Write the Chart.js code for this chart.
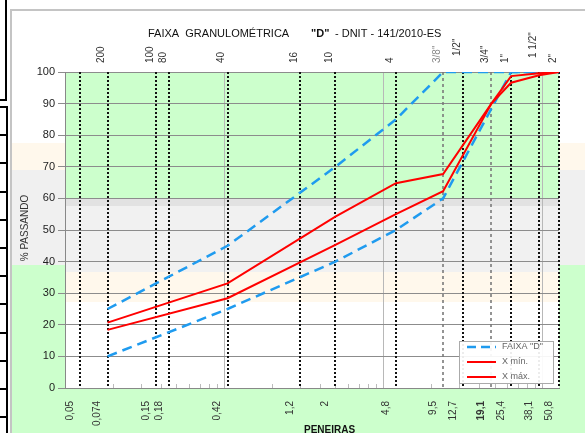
<!DOCTYPE html>
<html>
<head>
<meta charset="utf-8">
<script src="https://cdn.jsdelivr.net/npm/chart.js@4.4.0/dist/chart.umd.min.js"></script>
<style>
  html, body { margin: 0; padding: 0; background: #fff; overflow: hidden; }
  canvas { display: block; }
</style>
</head>
<body>
<canvas id="granChart" width="585" height="433"></canvas>
<script>
// sieve openings (mm) and their names
const sieveMm = [0.05, 0.074, 0.15, 0.18, 0.42, 1.2, 2.0, 4.8, 9.5, 12.7, 19.1, 25.4, 38.1, 50.8];
const sieveMmLabels = ['0,05', '0,074', '0,15', '0,18', '0,42', '1,2', '2', '4,8', '9,5', '12,7', '19,1', '25,4', '38,1', '50,8'];
const sieveNames = ['', '200', '100', '80', '40', '16', '10', '4', '3/8"', '1/2"', '3/4"', '1"', '1 1/2"', '2"'];

// faixa "D" limits
const faixaMm = [0.074, 0.42, 2.0, 4.8, 9.5, 25.4, 50.8];
const faixaMin = [10, 25, 40, 50, 60, 100, 100];
const faixaMax = [25, 45, 70, 85, 100, 100, 100];

// project curve limits
const projMm = [0.074, 0.42, 2.0, 4.8, 9.5, 19.1, 25.4, 38.1, 50.8];
const xMinValues = [18.4, 28.4, 45.3, 55, 62.3, 90, 96.6, 99, 100];
const xMaxValues = [20.7, 33.1, 54.2, 64.8, 67.7, 90, 98.7, 99.6, 100];

const yTicks = [0, 10, 20, 30, 40, 50, 60, 70, 80, 90, 100];

const FONT = 'Liberation Sans, Arial, sans-serif';
const BLUE = '#1f9bef';
const RED = '#ff0000';
Chart.defaults.font.family = FONT;

const pts = (xs, ys) => xs.map((x, i) => ({ x: x, y: ys[i] }));

// spreadsheet cells showing behind the chart
const sheetBackground = {
    id: 'sheetBackground',
    beforeDraw(chart) {
        const ctx = chart.ctx;
        const a = chart.chartArea;
        const W = chart.width, H = chart.height;
        ctx.save();
        ctx.fillStyle = '#fff';
        ctx.fillRect(0, 0, W, H);

        ctx.fillStyle = '#fff8ec'; ctx.fillRect(12, 143, W - 12, 27);
        ctx.fillStyle = '#f0f0f0'; ctx.fillRect(12, 170, W - 12, 95);
        ctx.fillStyle = '#ccffcc'; ctx.fillRect(12, 265, W - 12, H - 265);

        // plot area fill
        ctx.fillStyle = '#fff'; ctx.fillRect(a.left, a.top, a.width, a.height);
        ctx.fillStyle = '#ccffcc'; ctx.fillRect(a.left, a.top, a.width, 199 - a.top);
        ctx.fillStyle = '#e2e2e2'; ctx.fillRect(a.left, 199, a.width, 7);
        ctx.fillStyle = '#f1f1f1'; ctx.fillRect(a.left, 206, a.width, 66);
        ctx.fillStyle = '#fff8ec'; ctx.fillRect(a.left, 272, a.width, 30);

        // frame of the chart object
        ctx.fillStyle = '#c4c4c4';
        ctx.fillRect(11, 9, W - 11, 2);
        ctx.fillRect(10, 9, 2, H - 9);

        // sheet borders at the far left
        ctx.fillStyle = '#000';
        ctx.fillRect(5, 0, 2, 100);
        ctx.fillRect(0, 99, 7, 2);
        ctx.fillRect(6, 106, 2, H - 106);
        for (let yy = 106; yy < H; yy += 28.2) {
            ctx.fillRect(0, Math.round(yy), 7, 2);
        }
        ctx.restore();
    }
};

// dotted sieve lines with their labels
const sieveLines = {
    id: 'sieveLines',
    beforeDatasetsDraw(chart) {
        const ctx = chart.ctx;
        const a = chart.chartArea;
        const x = chart.scales.x;
        ctx.save();
        // minor ticks inside the axis
        ctx.strokeStyle = '#bbb';
        ctx.lineWidth = 1;
        [0.04, 0.4, 4].forEach(dec => {
            for (let k = 2; k <= 9; k++) {
                const v = dec * k;
                if (v > 50.8) continue;
                const px = Math.round(x.getPixelForValue(v)) + 0.5;
                ctx.beginPath();
                ctx.moveTo(px, a.bottom);
                ctx.lineTo(px, a.bottom - 4);
                ctx.stroke();
            }
        });
        sieveMm.forEach(mm => {
            const px = Math.round(x.getPixelForValue(mm));
            const light = (mm === 9.5 || mm === 19.1);
            ctx.strokeStyle = light ? '#7a7a7a' : '#111';
            ctx.lineWidth = light ? 1.6 : 2;
            ctx.setLineDash(light ? [3, 3] : [2, 2]);
            ctx.beginPath();
            ctx.moveTo(px, a.top);
            ctx.lineTo(px, a.bottom);
            ctx.stroke();
        });
        ctx.restore();
    },
    afterDraw(chart) {
        const ctx = chart.ctx;
        const a = chart.chartArea;
        const x = chart.scales.x;
        ctx.save();
        ctx.textBaseline = 'middle';
        sieveMm.forEach((mm, i) => {
            const px = x.getPixelForValue(mm);
            // mm label under the axis
            ctx.save();
            ctx.translate(px - 10, a.bottom + 13);
            ctx.rotate(-Math.PI / 2);
            ctx.textAlign = 'right';
            ctx.fillStyle = '#333';
            ctx.font = (sieveMmLabels[i] === '19,1' ? 'bold ' : '') + '10px ' + FONT;
            ctx.fillText(sieveMmLabels[i], 0, 0);
            ctx.restore();
            // sieve name above the plot
            const name = sieveNames[i];
            if (!name) return;
            const lift = (name === '1/2"') ? 7 : (name === '1 1/2"' ? 5 : 0);
            ctx.save();
            ctx.translate(px - 6, a.top - 9 - lift);
            ctx.rotate(-Math.PI / 2);
            ctx.textAlign = 'left';
            ctx.fillStyle = name === '3/8"' ? '#888' : '#333';
            ctx.font = '10px ' + FONT;
            ctx.fillText(name, 0, 0);
            ctx.restore();
        });
        ctx.restore();
    }
};

// title, axis titles and legend box
const chartTexts = {
    id: 'chartTexts',
    afterDraw(chart) {
        const ctx = chart.ctx;
        ctx.save();
        ctx.fillStyle = '#111';
        ctx.textBaseline = 'alphabetic';
        ctx.textAlign = 'left';
        ctx.font = '11px ' + FONT;
        ctx.fillText('FAIXA  GRANULOMÉTRICA', 148, 37);
        ctx.font = 'bold 11px ' + FONT;
        ctx.fillText('"D"', 311, 37);
        ctx.font = '11px ' + FONT;
        ctx.fillText('- DNIT - 141/2010-ES', 335, 37);

        // y axis title
        ctx.save();
        ctx.translate(25, 228);
        ctx.rotate(-Math.PI / 2);
        ctx.textAlign = 'center';
        ctx.textBaseline = 'middle';
        ctx.fillStyle = '#333';
        ctx.font = '10px ' + FONT;
        ctx.fillText('% PASSANDO', 0, 0);
        ctx.restore();

        // x axis title
        ctx.font = 'bold 10px ' + FONT;
        ctx.fillStyle = '#111';
        ctx.fillText('PENEIRAS', 304, 433);

        // legend
        const lx = 459, ly = 341, lw = 94, lh = 42;
        ctx.fillStyle = 'rgba(255,255,255,0.92)';
        ctx.fillRect(lx, ly, lw, lh);
        ctx.strokeStyle = '#aaa';
        ctx.lineWidth = 1;
        ctx.strokeRect(lx + 0.5, ly + 0.5, lw, lh);
        const items = [
            { text: 'FAIXA "D"', color: BLUE, dash: [9, 5], w: 2.5 },
            { text: 'X mín.', color: RED, dash: [], w: 2 },
            { text: 'X máx.', color: RED, dash: [], w: 2 }
        ];
        ctx.font = '9px ' + FONT;
        ctx.textBaseline = 'middle';
        items.forEach((it, i) => {
            const yy = ly + 6 + i * 15;
            ctx.strokeStyle = it.color;
            ctx.lineWidth = it.w;
            ctx.setLineDash(it.dash);
            ctx.beginPath();
            ctx.moveTo(lx + 8, yy);
            ctx.lineTo(lx + 37, yy);
            ctx.stroke();
            ctx.setLineDash([]);
            ctx.fillStyle = '#666';
            ctx.fillText(it.text, lx + 43, yy);
        });
        ctx.restore();
    }
};

new Chart(document.getElementById('granChart').getContext('2d'), {
    type: 'scatter',
    data: {
        datasets: [
            {
                label: 'X mín.',
                data: pts(projMm, xMinValues),
                showLine: true,
                borderColor: RED,
                borderWidth: 2,
                pointRadius: 0,
                order: 1
            },
            {
                label: 'X máx.',
                data: pts(projMm, xMaxValues),
                showLine: true,
                borderColor: RED,
                borderWidth: 2,
                pointRadius: 0,
                order: 1
            },
            {
                label: 'FAIXA "D"',
                data: pts(faixaMm, faixaMin),
                showLine: true,
                borderColor: BLUE,
                borderWidth: 2.5,
                borderDash: [10, 6],
                pointRadius: 0,
                order: 2
            },
            {
                label: 'FAIXA "D" máx',
                data: pts(faixaMm, faixaMax),
                showLine: true,
                borderColor: BLUE,
                borderWidth: 2.5,
                borderDash: [10, 6],
                pointRadius: 0,
                order: 2
            }
        ]
    },
    options: {
        responsive: false,
        animation: false,
        layout: { padding: { left: 12, right: 26, top: 72, bottom: 45 } },
        plugins: {
            legend: { display: false },
            title: { display: false },
            tooltip: { enabled: false }
        },
        scales: {
            x: {
                type: 'logarithmic',
                min: 0.04,
                max: 50.8,
                afterBuildTicks: scale => {
                    scale.ticks = [0.04, 0.4, 4, 40].map(v => ({ value: v }));
                },
                afterFit: scale => { scale.height = 0; },
                ticks: { display: false },
                grid: { color: '#b8b8b8', drawTicks: false, lineWidth: 1 },
                border: { display: true, color: '#888', width: 1 }
            },
            y: {
                min: 0,
                max: 100,
                afterBuildTicks: scale => {
                    const t = [];
                    for (let v = 0; v <= 100; v += 5) t.push({ value: v });
                    scale.ticks = t;
                },
                afterFit: scale => { scale.width = 53; },
                ticks: {
                    color: '#222',
                    font: { size: 11 },
                    padding: 3,
                    callback: v => (yTicks.includes(v) ? v : '')
                },
                grid: {
                    color: ctx => (ctx.tick && ctx.tick.value % 10 === 0 ? '#8c8c8c' : '#c8c8c8'),
                    tickColor: ctx => (ctx.tick && ctx.tick.value % 10 === 0 ? '#8c8c8c' : 'rgba(0,0,0,0)'),
                    tickLength: 7,
                    lineWidth: 1
                },
                border: { display: true, color: '#888', width: 1 }
            }
        }
    },
    plugins: [sheetBackground, sieveLines, chartTexts]
});
</script>
</body>
</html>
